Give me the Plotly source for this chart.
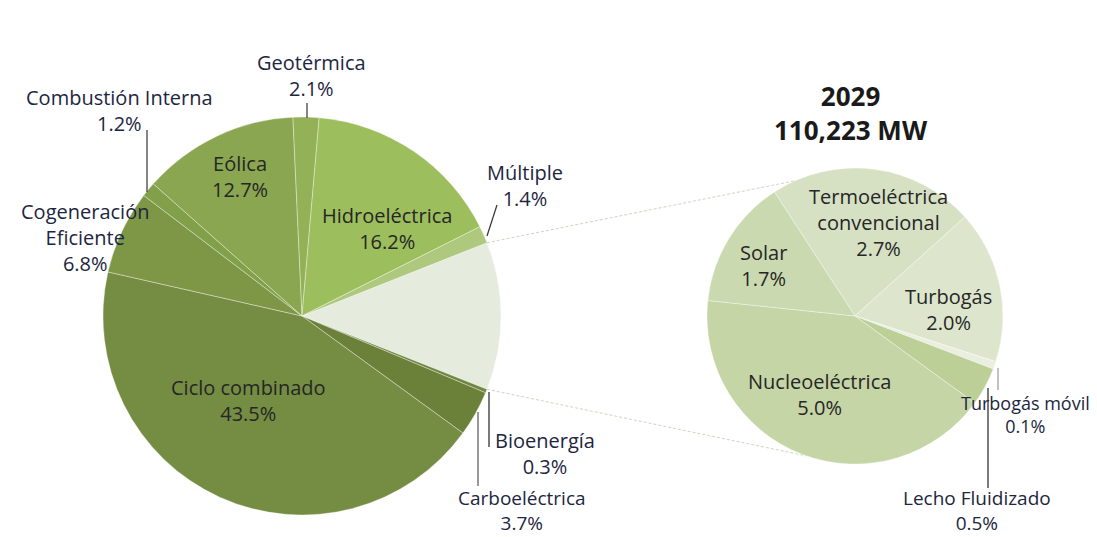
import math
import plotly.graph_objects as go

# ---------------- data ----------------
main_labels = ["Otras", "Bioenergía", "Carboeléctrica", "Ciclo combinado",
               "Cogeneración\nEficiente", "Combustión Interna", "Eólica",
               "Geotérmica", "Hidroeléctrica", "Múltiple"]
main_values = [12.0, 0.3, 3.7, 43.5, 6.8, 1.2, 12.7, 2.1, 16.2, 1.4]
main_colors = ["#e6ecdd", "#6f8740", "#6b8139", "#758d43", "#7e9747",
               "#82a049", "#8aa650", "#93b257", "#9dbe5c", "#aec97d"]

sub_labels = ["Termoeléctrica\nconvencional", "Turbogás", "Turbogás móvil",
              "Lecho Fluidizado", "Nucleoeléctrica", "Solar"]
sub_values = [2.7, 2.0, 0.1, 0.5, 5.0, 1.7]
sub_colors = ["#d6e1c3", "#dde6cd", "#e9eedf", "#bccf96", "#c5d5a6", "#cbd9b0"]

title_year = "2029"
title_total = "110,223 MW"

# ---------------- layout geometry (window pixels) ----------------
OFF = 8                      # default body margin of the html page
W, H = 1097 - OFF, 537 - OFF  # figure size
L_C, L_R = (302, 316), 199
R_C, R_R = (855, 316), 148
R_ROT = -33


def px(x):
    return (x - OFF) / W


def py(y):
    return 1 - (y - OFF) / H


def dom(c, r):
    return dict(x=[px(c[0] - r), px(c[0] + r)], y=[py(c[1] + r), py(c[1] - r)])


other_deg = main_values[0] / sum(main_values) * 360
L_ROT = 90 - other_deg / 2

fig = go.Figure()
fig.add_trace(go.Pie(labels=[l.replace("\n", " ") for l in main_labels], values=main_values,
                     sort=False, direction="clockwise", rotation=L_ROT,
                     marker=dict(colors=main_colors, line=dict(color="rgba(255,255,255,0.35)", width=1)),
                     textinfo="none", hoverinfo="label+percent", domain=dom(L_C, L_R),
                     showlegend=False))
fig.add_trace(go.Pie(labels=[l.replace("\n", " ") for l in sub_labels], values=sub_values,
                     sort=False, direction="clockwise", rotation=R_ROT,
                     marker=dict(colors=sub_colors, line=dict(color="rgba(255,255,255,0.35)", width=1)),
                     textinfo="none", hoverinfo="label+value", domain=dom(R_C, R_R),
                     showlegend=False))


def pt(c, r, ang):
    a = math.radians(ang)
    return c[0] + r * math.sin(a), c[1] - r * math.cos(a)


shapes = []
# connector lines between the two pies
for a_left, a_right in [(L_ROT, 336), (L_ROT + other_deg, 199)]:
    x0, y0 = pt(L_C, L_R, a_left)
    x1, y1 = pt(R_C, R_R, a_right)
    shapes.append(dict(type="line", xref="paper", yref="paper",
                       x0=px(x0), y0=py(y0), x1=px(x1), y1=py(y1),
                       line=dict(color="#cdd6bd", width=1, dash="3px,2px")))

# leader lines (window pixel positions)
leaders = [((307, 103), (307, 118), "#333"),
           ((147, 130), (147, 192), "#333"),
           ((497, 205), (487, 236), "#333"),
           ((489, 392), (489, 447), "#222"),
           ((478, 412), (478, 486), "#555"),
           ((998, 368), (998, 390), "#999"),
           ((988, 388), (988, 488), "#222")]
for (x0, y0), (x1, y1), col in leaders:
    shapes.append(dict(type="line", xref="paper", yref="paper",
                       x0=px(x0), y0=py(y0), x1=px(x1), y1=py(y1),
                       line=dict(color=col, width=1.2)))

# label positions (window pixel centres, font size)
pos = {
    "Bioenergía": (545, 453, "out", 20),
    "Carboeléctrica": (522, 510, "out", 19),
    "Ciclo combinado": (248, 400, "in", 20),
    "Cogeneración\nEficiente": (85, 238, "out", 20),
    "Combustión Interna": (119, 111, "out", 20),
    "Eólica": (240, 177, "in", 20),
    "Geotérmica": (311, 75, "out", 20),
    "Hidroeléctrica": (387, 228, "in", 20),
    "Múltiple": (525, 185, "out", 20),
    "Termoeléctrica\nconvencional": (878, 222, "in", 20),
    "Turbogás": (948, 309, "in", 20),
    "Turbogás móvil": (1025, 414, "out", 18),
    "Lecho Fluidizado": (977, 510, "out", 19),
    "Nucleoeléctrica": (820, 394, "in", 20),
    "Solar": (763, 265, "in", 20),
}

FONT = "Open Sans"
annotations = []
for labs, vals in [(main_labels, main_values), (sub_labels, sub_values)]:
    for lab, val in zip(labs, vals):
        if lab not in pos:
            continue
        x, y, kind, fs = pos[lab]
        col = "#1d2640" if kind == "out" else "#262626"
        annotations.append(dict(text=lab.replace("\n", "<br>") + f"<br>{val:.1f}%",
                                x=px(x), y=py(y), xref="paper", yref="paper",
                                showarrow=False, xanchor="center", yanchor="middle",
                                font=dict(family=FONT, size=fs, color=col)))

annotations.append(dict(text=f"<b>{title_year}</b><br><b>{title_total}</b>",
                        x=px(851), y=py(113), xref="paper", yref="paper",
                        showarrow=False, xanchor="center", yanchor="middle",
                        font=dict(family=FONT, size=26, color="#1a1a1a")))

fig.update_layout(width=W, height=H, margin=dict(l=0, r=0, t=0, b=0),
                  paper_bgcolor="white", plot_bgcolor="white",
                  shapes=shapes, annotations=annotations, showlegend=False)

fig.write_html("out.html")
